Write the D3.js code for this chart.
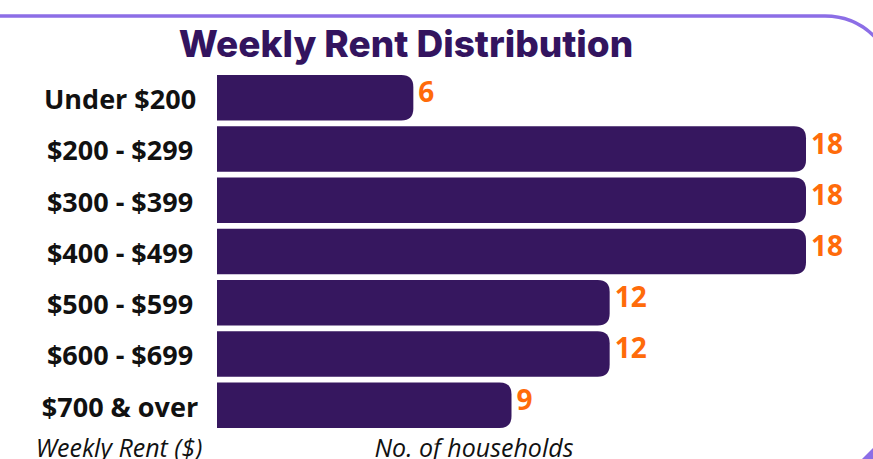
<!DOCTYPE html>
<html>
<head>
<meta charset="utf-8">
<script src="https://cdn.jsdelivr.net/npm/d3@7"></script>
<style>
  body { margin: 0; background: #fff; }
  svg { display: block; }
</style>
</head>
<body>
<div id="chart"></div>
<script>
let width_chart = 873;
let height_chart = 459;

// donnees
const categories = ["Under $200", "$200 - $299", "$300 - $399", "$400 - $499", "$500 - $599", "$600 - $699", "$700 & over"];
const households = [6, 18, 18, 18, 12, 12, 9];
const titre = "Weekly Rent Distribution";
const xLabel = "No. of households";
const yLabel = "Weekly Rent ($)";

const data = categories.map(function(c, i) { return { name: c, value: households[i] }; });

let svg = d3.select('#chart').append('svg')
    .attr('width', width_chart)
    .attr('height', height_chart);

// cadre arrondi
const r = 70, top_y = 16, right_x = 895;
svg.append("path")
    .attr("d", "M-10," + top_y + " L" + (right_x - r) + "," + top_y +
               " A" + r + "," + r + " 0 0 1 " + right_x + "," + (top_y + r) +
               " L" + right_x + ",470")
    .attr("fill", "none")
    .attr("stroke", "#8c6ee6")
    .attr("stroke-width", 3.5);

svg.append("path")
    .attr("d", "M873,448 L873,459 L862,459 Z")
    .attr("fill", "#8c6ee6");

// titre
svg.append("text")
    .attr("x", 406)
    .attr("y", 57)
    .attr("text-anchor", "middle")
    .attr("font-family", "Inter, 'Open Sans', sans-serif")
    .attr("font-weight", 800)
    .attr("font-size", 37)
    .attr("fill", "#33145f")
    .text(titre);

// echelles
var x = d3.scaleLinear().domain([0, 18]).range([217, 806]);
var y = d3.scaleBand().domain(categories).range([75, 428]).paddingInner(0.11).paddingOuter(0);

// barres avec coins arrondis a droite
function barPath(d) {
    var x0 = x(0), x1 = x(d.value), y0 = y(d.name), h = y.bandwidth();
    var rr = Math.min(12, h / 2);
    return "M" + x0 + "," + y0 +
        " L" + (x1 - rr) + "," + y0 +
        " Q" + x1 + "," + y0 + " " + x1 + "," + (y0 + rr) +
        " L" + x1 + "," + (y0 + h - rr) +
        " Q" + x1 + "," + (y0 + h) + " " + (x1 - rr) + "," + (y0 + h) +
        " L" + x0 + "," + (y0 + h) + " Z";
}

svg.selectAll("path.bar")
    .data(data)
    .enter().append("path")
    .attr("class", "bar")
    .attr("d", barPath)
    .attr("fill", "#36175f");

// valeurs
svg.selectAll("text.val")
    .data(data)
    .enter().append("text")
    .attr("class", "val")
    .attr("x", function(d) { return x(d.value) + 5; })
    .attr("y", function(d) { return y(d.name) + y.bandwidth() / 2 - 3; })
    .attr("dominant-baseline", "middle")
    .attr("font-family", "'Open Sans', sans-serif")
    .attr("font-weight", 700)
    .attr("font-size", 28)
    .attr("fill", "#ff6b0a")
    .text(function(d) { return d.value; });

// etiquettes des categories
var yAxis = d3.axisLeft(y).tickSize(0).tickPadding(0);
var gy = svg.append("g")
    .attr("transform", "translate(120,2)")
    .call(yAxis);
gy.select(".domain").remove();
gy.selectAll("text")
    .attr("text-anchor", "middle")
    .attr("dy", "0.35em")
    .attr("font-family", "'Open Sans', sans-serif")
    .attr("font-weight", 700)
    .attr("font-size", 27)
    .attr("fill", "#111");

// titres des axes
svg.append("text")
    .attr("x", 119)
    .attr("y", 457)
    .attr("text-anchor", "middle")
    .attr("font-family", "'Open Sans', sans-serif")
    .attr("font-style", "italic")
    .attr("font-size", 25)
    .attr("fill", "#111")
    .text(yLabel);

svg.append("text")
    .attr("x", 474)
    .attr("y", 457)
    .attr("text-anchor", "middle")
    .attr("font-family", "'Open Sans', sans-serif")
    .attr("font-style", "italic")
    .attr("font-size", 25)
    .attr("fill", "#111")
    .text(xLabel);
</script>
</body>
</html>
